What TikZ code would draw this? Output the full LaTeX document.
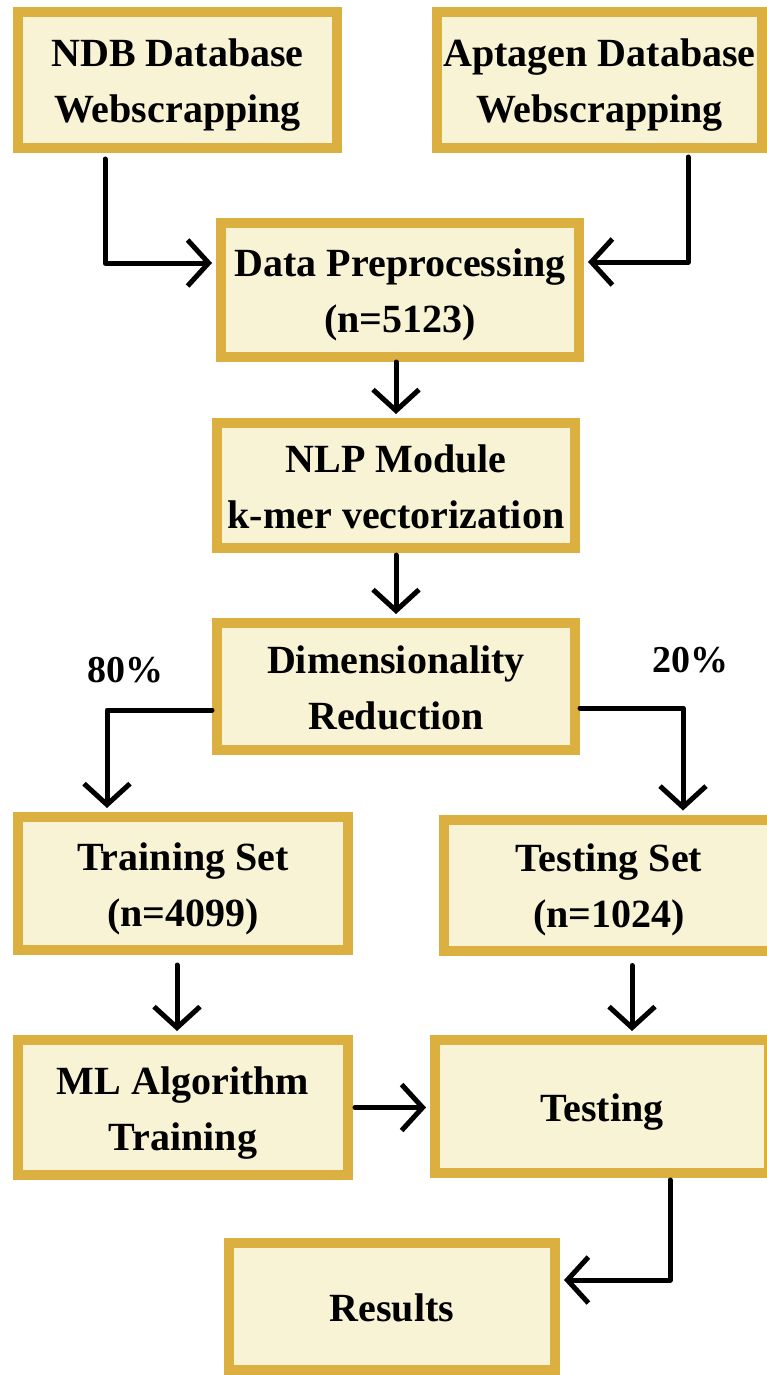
\documentclass[tikz,border=0pt]{standalone}
\usepackage{fontspec}
\setmainfont{Liberation Serif}
\usetikzlibrary{arrows.meta,calc}
\definecolor{boxedge}{HTML}{DBB040}
\definecolor{boxfill}{HTML}{F9F3D6}
\newcommand\toprl{\rule{0pt}{38pt}}
\newcommand\botrl{\rule[-8pt]{0pt}{8pt}}
\tikzset{
  stepbox/.style={draw=boxedge,fill=boxfill,line width=10pt,rectangle,align=center,
    font=\fontsize{40}{56}\selectfont\bfseries,inner sep=0pt},
  arr/.style={draw=black,line width=5pt,line cap=round,line join=round,
    -{Straight Barb[length=21pt,width=46pt,line width=5pt]},shorten >=4pt},
  pct/.style={font=\fontsize{38}{40}\selectfont\bfseries,inner sep=0pt},
}
\begin{document}
\begin{tikzpicture}[x=1pt,y=-1pt]
\clip (0,0) rectangle (767,1375);
\fill[white] (0,0) rectangle (767,1375);
\node[stepbox,minimum width=319pt,minimum height=136pt] (ndb) at (177.5,80) {\toprl NDB Database\\Webscrapping\botrl};
\node[stepbox,minimum width=325pt,minimum height=136pt] (apt) at (599.5,80) {\toprl Aptagen Database\\Webscrapping\botrl};
\node[stepbox,minimum width=358pt,minimum height=134pt] (dp) at (400,290) {\toprl Data Preprocessing\\(n=5123)\botrl};
\node[stepbox,minimum width=358pt,minimum height=125pt] (nlp) at (396,485.5) {\toprl NLP Module\\k-mer vectorization\botrl};
\node[stepbox,minimum width=358pt,minimum height=127pt] (dr) at (396,686.5) {\toprl Dimensionality\\Reduction\botrl};
\node[stepbox,minimum width=330pt,minimum height=133pt] (train) at (183,883.5) {\toprl Training Set\\(n=4099)\botrl};
\node[stepbox,minimum width=330pt,minimum height=131pt] (testset) at (609,885) {\toprl Testing Set\\(n=1024)\botrl};
\node[stepbox,minimum width=330pt,minimum height=135pt] (ml) at (183,1107.5) {\toprl ML Algorithm\\Training\botrl};
\node[stepbox,minimum width=334pt,minimum height=133pt] (testing) at (602,1106.5) {\toprl Testing\botrl};
\node[stepbox,minimum width=326pt,minimum height=127pt] (res) at (392,1306.5) {\toprl Results\botrl};
\node[pct] (p80) at (125,670) {80\%};
\node[pct] (p20) at (690,660) {20\%};
\draw[arr,shorten <=6pt] ([xshift=-72.5pt]ndb.south) |- ([yshift=27pt]dp.west);
\draw[arr,shorten <=4pt] ([xshift=88.5pt]apt.south) |- ([yshift=28pt]dp.east);
\draw[arr] (dp.south -| nlp.north) -- (nlp.north);
\draw[arr,shorten <=2pt] (nlp.south) -- (dr.north);
\draw[arr,shorten <=0pt] ([yshift=-23.5pt]dr.west) -| ([xshift=-76pt]train.north);
\draw[arr,shorten <=0pt] ([yshift=-21.5pt]dr.east) -| ([xshift=74pt]testset.north);
\draw[arr,shorten <=10pt] ([xshift=-6pt]train.south) -- ([xshift=-6pt]ml.north);
\draw[arr,shorten <=10pt] ([xshift=23pt]testset.south) -- ([xshift=23pt]testset.south |- testing.north);
\draw[arr,shorten <=2pt] (ml.east) -- (ml.east -| testing.west);
\draw[arr,shorten <=2pt] ([xshift=68pt]testing.south) |- ([yshift=26.5pt]res.east);
\end{tikzpicture}
\end{document}
